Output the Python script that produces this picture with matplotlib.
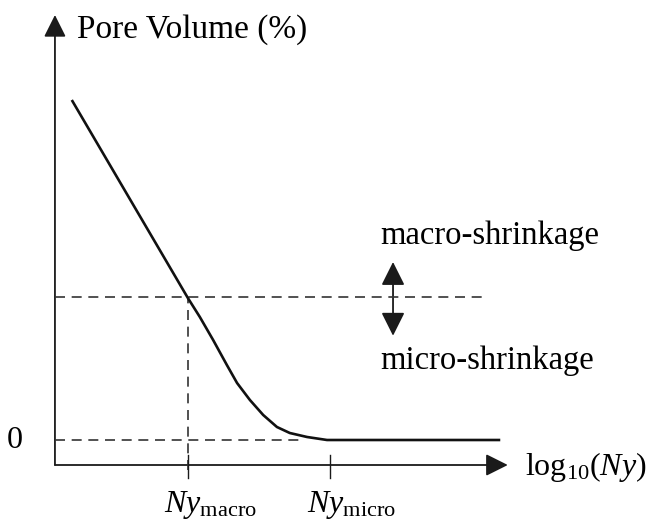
import matplotlib
matplotlib.use("Agg")
import matplotlib.pyplot as plt
from matplotlib.patches import FancyArrowPatch

plt.rcParams['font.family'] = ['Liberation Serif', 'DejaVu Serif']
plt.rcParams['mathtext.fontset'] = 'custom'
plt.rcParams['mathtext.rm'] = 'Liberation Serif'
plt.rcParams['mathtext.it'] = 'Liberation Serif:italic'

# schematic curve: log10(Ny) vs pore volume (arbitrary units, 0 = no porosity)
log_ny = [0.38, 3.0, 3.27, 3.57, 3.88, 4.11, 4.40, 4.70, 5.01, 5.30, 5.69, 6.14, 10.05]
pore_volume = [13.6, 5.68, 4.92, 4.0, 3.0, 2.28, 1.6, 1.0, 0.52, 0.28, 0.12, 0.0, 0.0]

ny_macro = 3.0
ny_micro = 6.2
threshold = 5.72          # macro / micro shrinkage boundary
tick_labels = [r'$Ny_{\mathrm{macro}}$', r'$Ny_{\mathrm{micro}}$']

x_axis_end = 10.22
y_axis_bottom = -1.0
y_axis_top = 17.0

fig = plt.figure(figsize=(6.58, 5.25), dpi=100)
ax = fig.add_axes([0, 0, 1, 1])
ax.set_xlim(-1.24, 13.61)
ax.set_ylim(-3.4, 17.6)
ax.axis('off')

head = '-|>,head_length=0.9,head_width=0.45'

# axes with arrow heads
for start, end in [((0, y_axis_bottom), (x_axis_end, y_axis_bottom)),
                   ((0, y_axis_bottom), (0, y_axis_top))]:
    ax.add_patch(FancyArrowPatch(start, end, arrowstyle=head, mutation_scale=15,
                                 lw=1.3, color='#1a1a1a', shrinkA=0, shrinkB=0))

# dashed guide lines
dash = dict(color='#333333', lw=1.2, ls=(0, (6, 4)))
ax.plot([0, 9.75], [threshold, threshold], **dash)
ax.plot([ny_macro, ny_macro], [y_axis_bottom - 0.2, threshold], **dash)
ax.plot([0, 5.65], [0, 0], **dash)

# main curve
ax.plot(log_ny, pore_volume, color='#111111', lw=1.9, solid_capstyle='butt')

# ticks on x axis
for xt, lab in zip([ny_macro, ny_micro], tick_labels):
    ax.plot([xt, xt], [y_axis_bottom - 0.5, y_axis_bottom + 0.4], color='#1a1a1a', lw=1.0)
    ax.text(xt + 0.5, y_axis_bottom - 1.6, lab, fontsize=23, ha='center', va='center')

# double arrow between regimes
ax.add_patch(FancyArrowPatch((7.63, threshold - 1.55), (7.63, threshold + 1.4),
                             arrowstyle='<|-|>,head_length=0.9,head_width=0.45',
                             mutation_scale=16, lw=1.3, color='#1a1a1a',
                             shrinkA=0, shrinkB=0))

ax.text(7.35, threshold + 2.45, 'macro-shrinkage', fontsize=23.5, ha='left', va='center')
ax.text(7.35, threshold - 2.55, 'micro-shrinkage', fontsize=23.5, ha='left', va='center')
ax.text(0.5, 16.4, 'Pore Volume (%)', fontsize=24, ha='left', va='center')
ax.text(-0.9, 0, '0', fontsize=23, ha='center', va='center')
ax.text(10.6, y_axis_bottom - 0.1, r'$\mathrm{log}_{10}(Ny)$', fontsize=23, ha='left', va='center')

fig.savefig('out.png', dpi=100)
